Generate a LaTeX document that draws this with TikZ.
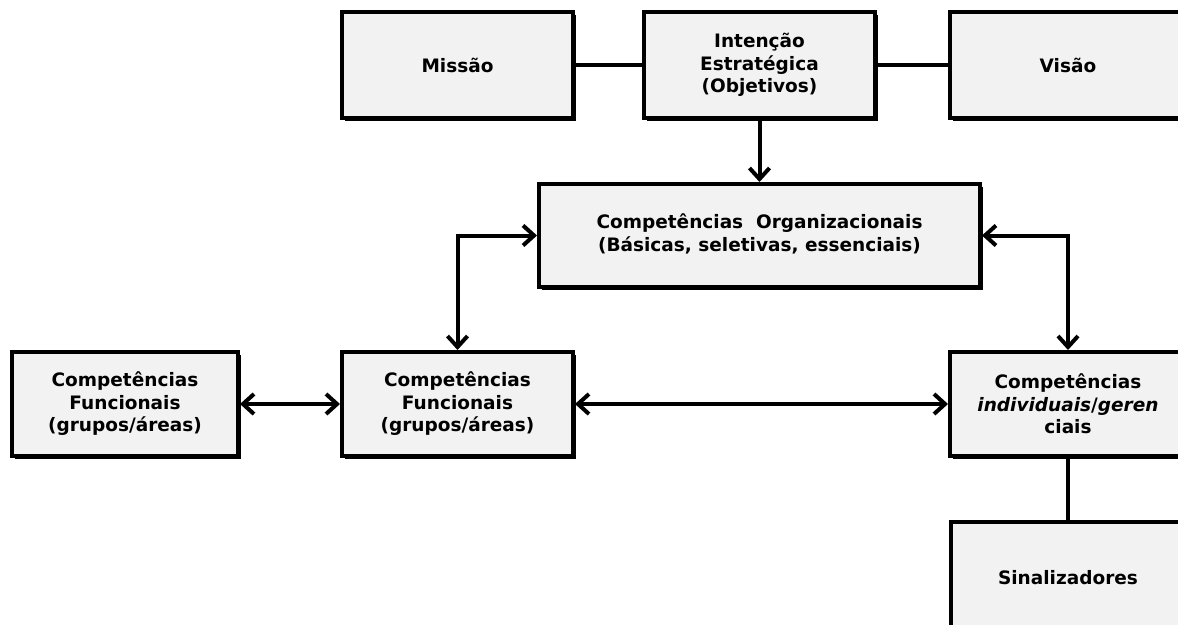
\documentclass[tikz,border=0pt]{standalone}
\usepackage{fontspec}
\setmainfont{DejaVu Sans}
\usetikzlibrary{arrows.meta,shadows}
\begin{document}
\begin{tikzpicture}[x=1pt,y=-1pt,
  >={Straight Barb[length=11pt,width=20pt]},
  box/.style={draw=black, line width=4pt,
    fill={rgb,255:red,242;green,242;blue,242},
    align=center, inner sep=0pt,
    font=\fontsize{18.5}{22.5}\selectfont\bfseries,
    drop shadow={shadow xshift=2.5pt, shadow yshift=-2.5pt, opacity=1, fill=black}},
  link/.style={line width=4pt, draw=black}]
\clip (0,0) rectangle (1178,624);
\fill[white] (0,0) rectangle (1178,624);

% top row
\node[box, minimum width=231pt, minimum height=106pt] (missao) at (457.5,65) {Missão};
\node[box, minimum width=231pt, minimum height=106pt] (intencao) at (759.5,65)
  {Intenção\\Estratégica\\(Objetivos)};
\node[box, minimum width=236pt, minimum height=106pt] (visao) at (1068,65) {Visão};

% organizational level
\node[box, minimum width=441pt, minimum height=103pt] (org) at (759.5,235.5)
  {\raisebox{-4pt}{\begin{tabular}{@{}c@{}}Competências\ \ Organizacionais\\(Básicas,\ seletivas,\ essenciais)\end{tabular}}};

% functional / individual level
\node[box, minimum width=226pt, minimum height=104pt] (func1) at (125,404)
  {Competências\\Funcionais\\(grupos/áreas)};
\node[box, minimum width=231pt, minimum height=104pt] (func2) at (457.5,404)
  {Competências\\Funcionais\\(grupos/áreas)};
\node[box, minimum width=236pt, minimum height=104pt] (indiv) at (1068,404)
  {Competências\\\textit{individuais}/\textit{geren}\\ciais};

% indicators
\node[box, minimum width=234pt, minimum height=112pt] (sinal) at (1068,578) {Sinalizadores};

% connectors
\draw[link] (missao.east) -- (intencao.west);
\draw[link] (intencao.east) -- (visao.west);
\draw[link, ->] (intencao.south) -- (org.north);
\draw[link, <->] (org.west) -| (func2.north);
\draw[link, <->] (org.east) -| (indiv.north);
\draw[link, <->] (func1.east) -- (func2.west);
\draw[link, <->] (func2.east) -- (indiv.west);
\draw[link] (indiv.south) -- (sinal.north);
\end{tikzpicture}
\end{document}
